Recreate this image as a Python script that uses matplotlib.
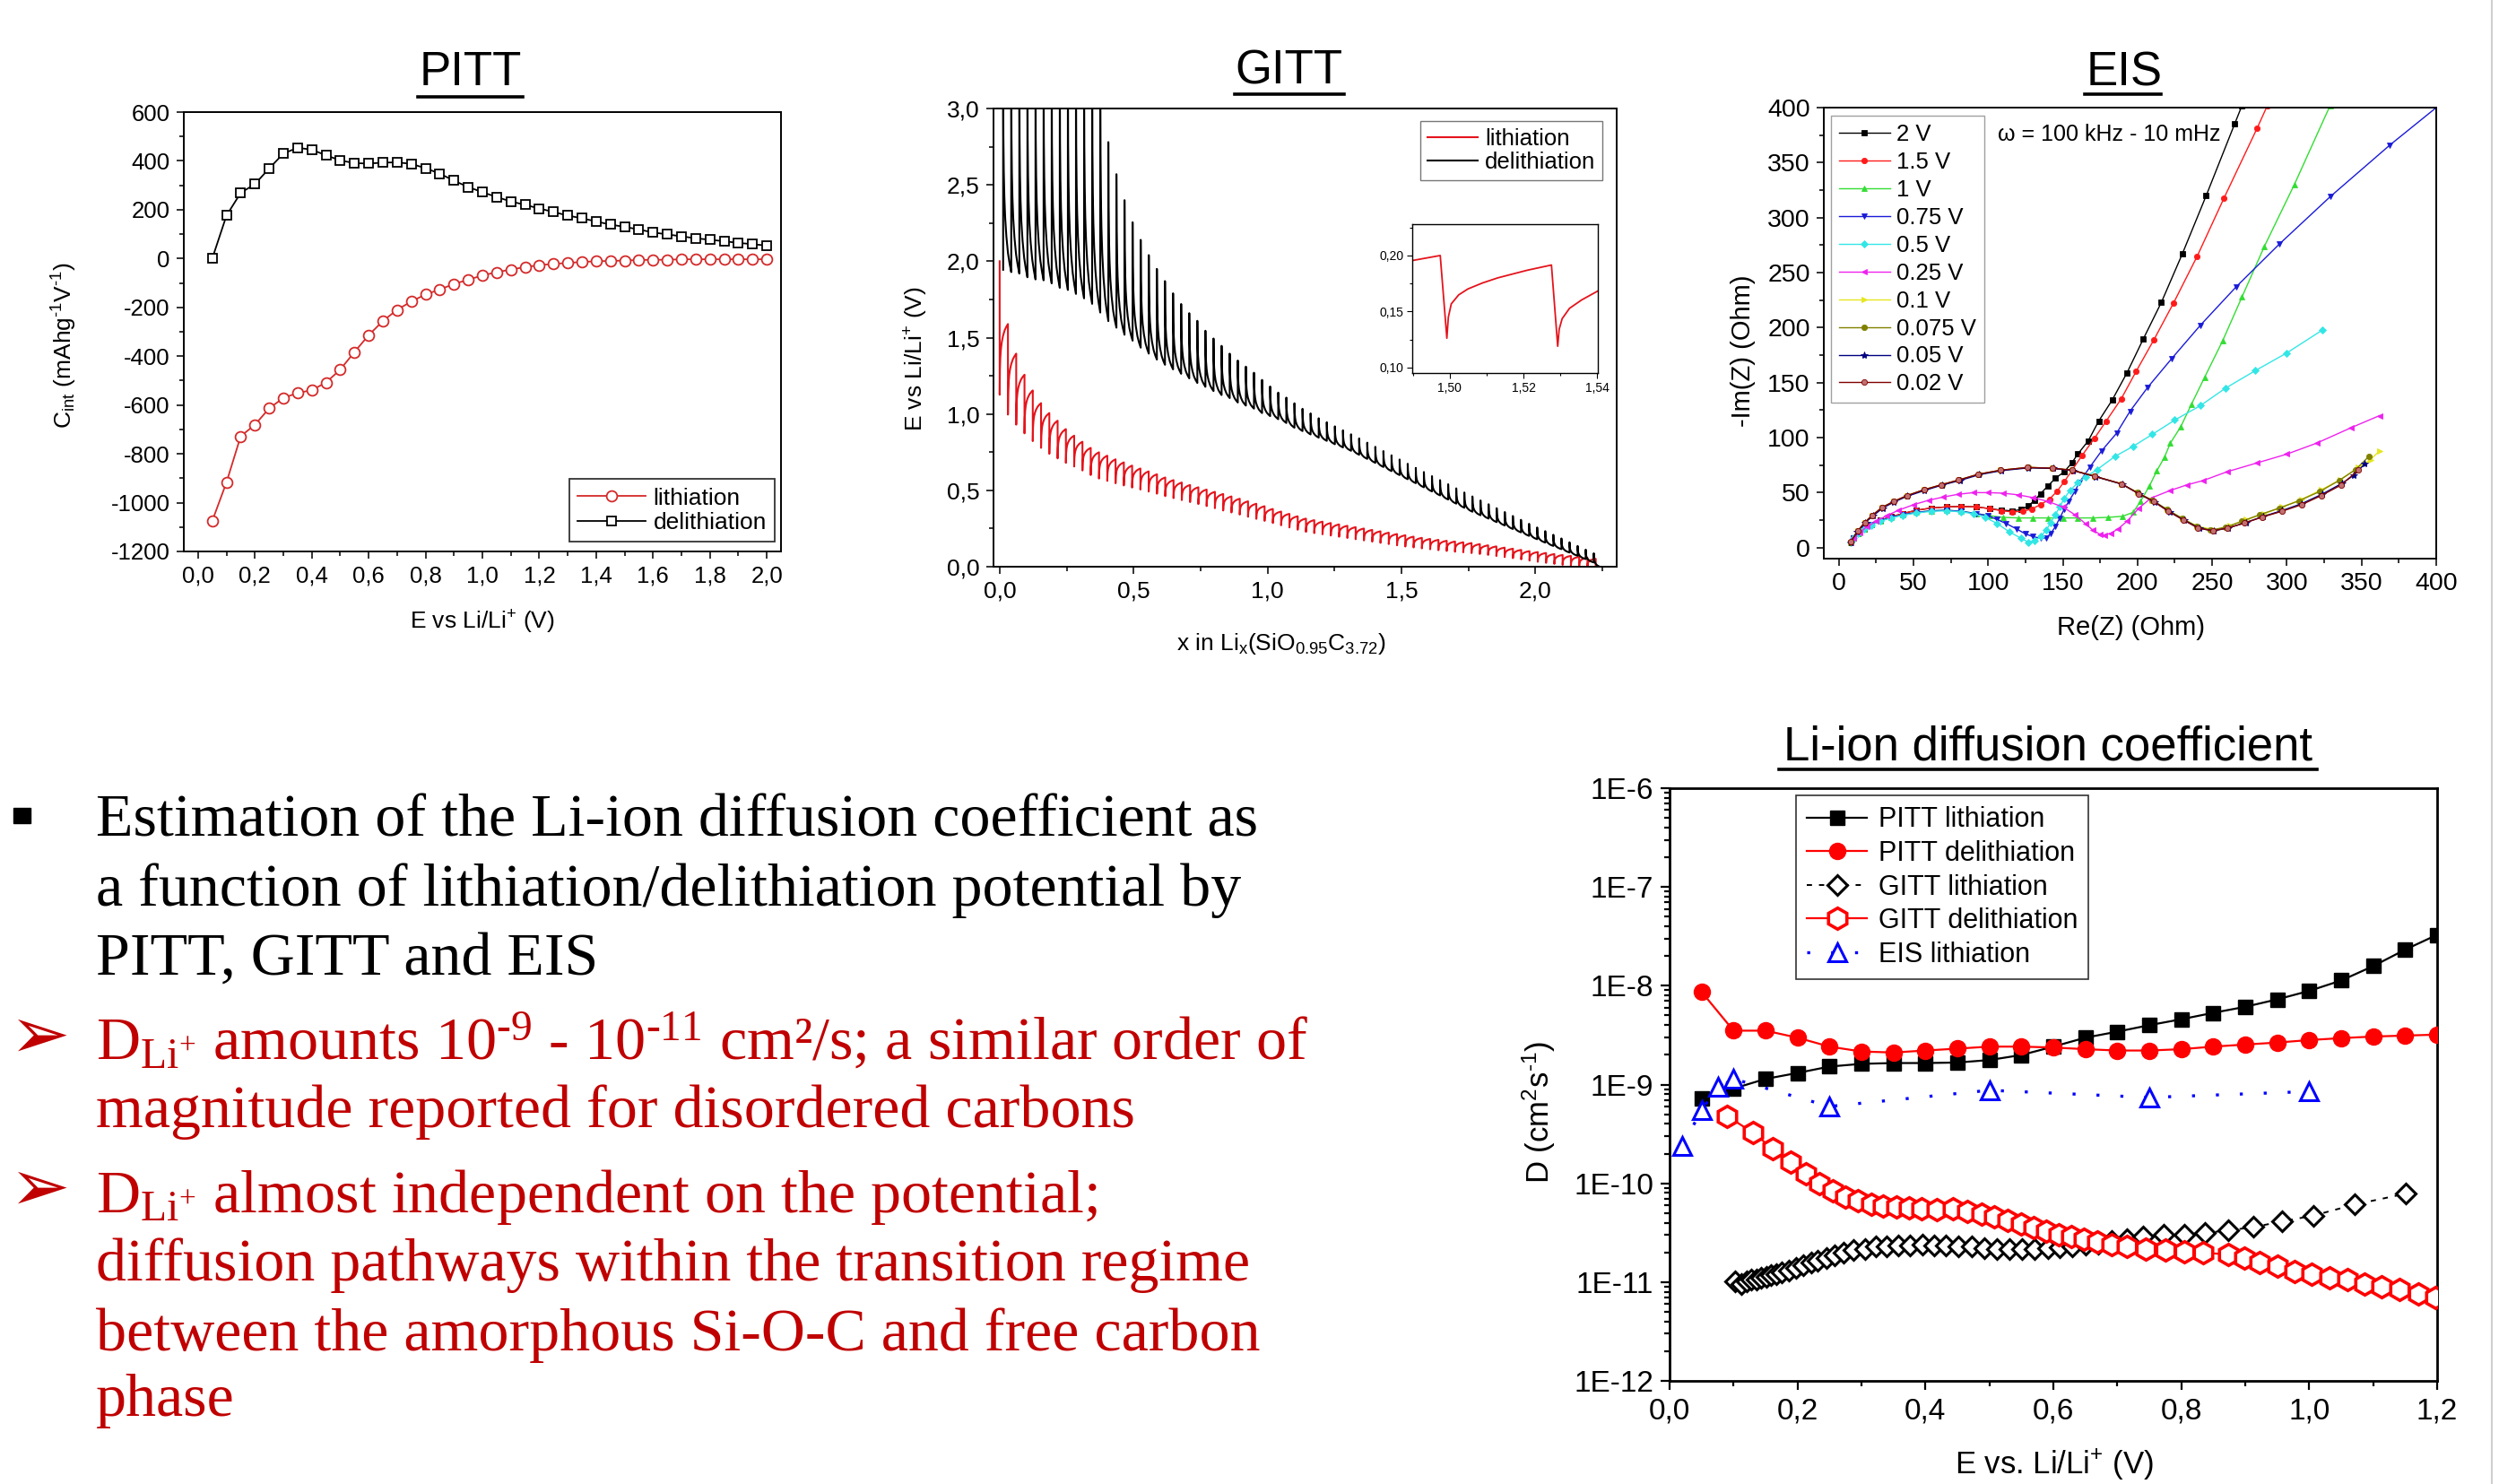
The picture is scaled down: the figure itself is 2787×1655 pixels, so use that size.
import numpy as np
import matplotlib
matplotlib.use("Agg")
import matplotlib.pyplot as plt
from matplotlib.ticker import MultipleLocator, FuncFormatter, FixedLocator, NullFormatter
from matplotlib.lines import Line2D
from matplotlib.patches import Rectangle

W, H = 2787, 1655
SANS = "Liberation Sans"
SERIF = "Liberation Serif"
plt.rcParams["font.family"] = SANS
plt.rcParams["axes.unicode_minus"] = False
HY = "\u2010"  # hyphen used in superscripts, as on the slide

# ==============================
# DATA
# ==============================
# PITT: integral capacity vs potential
pitt_e = [0.05, 0.10, 0.15, 0.20, 0.25, 0.30, 0.35, 0.40, 0.45, 0.50,
          0.55, 0.60, 0.65, 0.70, 0.75, 0.80, 0.85, 0.90, 0.95, 1.00,
          1.05, 1.10, 1.15, 1.20, 1.25, 1.30, 1.35, 1.40, 1.45, 1.50,
          1.55, 1.60, 1.65, 1.70, 1.75, 1.80, 1.85, 1.90, 1.95, 2.00]
pitt_lith = [-1075, -917, -728, -681, -614, -571, -551, -539, -508, -455,
             -383, -314, -256, -210, -176, -147, -127, -104, -87, -69,
             -56, -45, -35, -27, -22, -18, -14, -11, -10, -8,
             -6, -5, -5, -3, -3, -3, -3, -3, -3, -3]
pitt_delith = [0, 176, 269, 305, 369, 430, 454, 446, 423, 402,
               391, 389, 393, 394, 388, 370, 348, 319, 293, 272,
               252, 234, 220, 205, 191, 176, 165, 152, 139, 130,
               119, 107, 99, 91, 83, 77, 71, 64, 59, 53]

# GITT: one tooth per current pulse
gitt_lith_x0, gitt_lith_dx = 0.0, 0.0309
gitt_lith_top = [2.000, 1.589, 1.395, 1.257, 1.154, 1.071, 1.006, 0.956, 0.901, 0.858,
                 0.818, 0.778, 0.749, 0.727, 0.703, 0.683, 0.662, 0.643, 0.624, 0.605,
                 0.584, 0.567, 0.551, 0.535, 0.520, 0.505, 0.490, 0.476, 0.460, 0.445,
                 0.428, 0.412, 0.396, 0.378, 0.361, 0.346, 0.330, 0.315, 0.305, 0.295,
                 0.286, 0.277, 0.268, 0.259, 0.250, 0.241, 0.232, 0.223, 0.214, 0.206,
                 0.197, 0.189, 0.182, 0.176, 0.170, 0.165, 0.160, 0.155, 0.148, 0.140,
                 0.133, 0.125, 0.118, 0.110, 0.102, 0.096, 0.090, 0.083, 0.077, 0.071,
                 0.065, 0.059, 0.052]
gitt_lith_bottom = [1.126, 0.996, 0.930, 0.873, 0.822, 0.778, 0.739, 0.709, 0.680, 0.656,
                    0.630, 0.600, 0.577, 0.562, 0.546, 0.532, 0.518, 0.505, 0.492, 0.478,
                    0.462, 0.449, 0.436, 0.423, 0.410, 0.397, 0.383, 0.368, 0.355, 0.341,
                    0.327, 0.313, 0.300, 0.286, 0.271, 0.257, 0.242, 0.228, 0.220, 0.212,
                    0.204, 0.196, 0.188, 0.180, 0.172, 0.164, 0.156, 0.148, 0.140, 0.132,
                    0.126, 0.120, 0.114, 0.108, 0.103, 0.098, 0.094, 0.089, 0.083, 0.077,
                    0.070, 0.063, 0.056, 0.048, 0.040, 0.032, 0.025, 0.018, 0.012, 0.006,
                    0.002, 0.000, 0.000]
gitt_delith_x0, gitt_delith_dx = 0.013, 0.0302
gitt_delith_end = (2.24, 0.0)
gitt_delith_bottom = [1.944, 1.929, 1.919, 1.895, 1.881, 1.875, 1.855, 1.826, 1.812, 1.786,
                      1.757, 1.721, 1.664, 1.608, 1.565, 1.519, 1.480, 1.434, 1.395, 1.356,
                      1.322, 1.292, 1.263, 1.233, 1.203, 1.178, 1.150, 1.124, 1.104, 1.075,
                      1.055, 1.035, 1.006, 0.986, 0.966, 0.941, 0.910, 0.888, 0.866, 0.845,
                      0.824, 0.802, 0.781, 0.759, 0.733, 0.706, 0.680, 0.653, 0.626, 0.600,
                      0.573, 0.547, 0.520, 0.493, 0.467, 0.440, 0.413, 0.386, 0.360, 0.337,
                      0.315, 0.292, 0.270, 0.247, 0.225, 0.202, 0.180, 0.158, 0.136, 0.115,
                      0.093, 0.072, 0.050, 0.028]
gitt_delith_peak = [3.3, 3.3, 3.3, 3.3, 3.3, 3.3, 3.3, 3.3, 3.3, 3.3,
                    3.3, 3.3, 3.3, 2.78, 2.57, 2.40, 2.255, 2.14, 2.04, 1.95,
                    1.87, 1.79, 1.72, 1.66, 1.61, 1.545, 1.494, 1.446, 1.395, 1.35,
                    1.31, 1.27, 1.223, 1.18, 1.14, 1.107, 1.07, 1.034, 1.004, 0.972,
                    0.946, 0.919, 0.893, 0.867, 0.840, 0.812, 0.785, 0.757, 0.729, 0.702,
                    0.674, 0.647, 0.620, 0.593, 0.567, 0.540, 0.513, 0.486, 0.460, 0.434,
                    0.409, 0.383, 0.358, 0.332, 0.307, 0.281, 0.257, 0.233, 0.209, 0.185,
                    0.160, 0.136, 0.112, 0.088]
inset_x = [1.4898, 1.4974, 1.4992, 1.4996, 1.5004, 1.5024, 1.5049, 1.5089, 1.5130,
           1.5171, 1.5211, 1.5276, 1.5293, 1.5297, 1.5305, 1.5325, 1.5358, 1.5402]
inset_e = [0.1955, 0.2000, 0.1261, 0.1448, 0.1568, 0.1648, 0.1701, 0.1755, 0.1800,
           0.1835, 0.1869, 0.1915, 0.1189, 0.1341, 0.1435, 0.1528, 0.1603, 0.1683]

# EIS: Nyquist points (Re, -Im) in Ohm
eis_2v = [(8, 5), (10, 9), (13, 13), (17, 17), (22, 21), (28, 25), (35, 28), (43, 31), (52, 34),
          (62, 36), (72, 37), (82, 37.5), (92, 37), (101, 35.5), (109, 34), (116, 33.5),
          (122, 34.5), (127, 38), (131, 43), (135, 49), (140, 56), (145, 63), (151, 69),
          (156, 77), (160, 85), (167, 97), (174, 115), (183, 134), (193, 159), (204, 190),
          (216, 223), (230, 267), (246, 320), (265, 385), (270, 402)]
eis_1p5v = [(8, 5), (10, 9), (13, 13), (17, 17), (22, 21), (28, 25), (35, 28), (43, 31), (52, 34),
            (62, 36), (72, 37), (82, 37.5), (92, 37), (101, 35.5), (109, 33.5), (116, 32.5),
            (123, 33), (129, 35), (135, 39), (141, 44), (146, 51), (151, 60), (156, 70),
            (163, 84), (171, 99), (179, 115), (189, 135), (199, 160), (211, 189), (224, 222),
            (240, 265), (258, 318), (280, 381), (287, 402)]
eis_1v = [(8, 5), (10, 9), (13, 13), (17, 17), (22, 21), (28, 24.5), (35, 27.5), (43, 30), (52, 32),
          (62, 33.5), (72, 34), (82, 33), (92, 31), (101, 29), (110, 27.5), (120, 27), (130, 27),
          (140, 27), (150, 27), (160, 27), (170, 27), (180, 27.5), (190, 28.5), (197, 32),
          (202, 42), (208, 56), (213, 70), (218, 82), (222, 95), (229, 110), (236, 130),
          (245, 155), (257, 188), (270, 228), (285, 274), (305, 330), (329, 402)]
eis_0p75v = [(8, 5), (10, 9), (13, 13), (17, 17), (22, 21), (28, 24.5), (35, 27.5), (43, 30),
             (52, 32), (62, 33.5), (72, 34), (82, 33), (92, 31), (100, 29), (106, 25.5), (112, 22),
             (119, 17), (125, 12.5), (130, 10), (135, 8.5), (139, 9), (142, 13), (145, 19),
             (148, 27), (151, 35), (154, 42), (158, 51), (161, 59), (168, 73), (176, 88),
             (186, 104), (195, 124), (207, 146), (223, 172), (242, 202), (266, 237), (295, 276),
             (329, 319), (369, 366), (400, 400)]
eis_0p5v = [(8, 5), (10, 9), (13, 13), (17, 17), (22, 20.5), (28, 24), (35, 27), (43, 29.5),
            (52, 31.5), (62, 33), (72, 33.5), (82, 32.5), (90, 31), (98, 27.5), (106, 22),
            (114, 14.5), (122, 8.5), (127, 5), (131, 6), (135, 10), (139, 16), (142, 23),
            (145, 30), (148, 37), (151, 45), (155, 52), (160, 59), (165, 64), (173, 71),
            (185, 83), (197, 92), (210, 103), (225, 116), (242, 129), (259, 145), (279, 161),
            (300, 177), (324, 198)]
eis_0p25v = [(8, 5), (10, 9), (14, 14), (19, 19), (25, 24), (32, 29), (40, 34), (50, 39), (60, 43),
             (70, 46), (80, 48.5), (90, 50), (100, 50), (110, 49.5), (120, 48), (130, 45.5),
             (140, 42), (150, 37), (158, 30), (165, 22), (170, 16), (175, 12), (178, 11.5),
             (182, 13), (187, 17), (193, 24), (201, 36), (209, 45), (222, 52), (233, 57),
             (244, 61), (260, 69), (280, 77), (300, 85), (320, 95), (343, 109), (362, 120)]
eis_0p1v = [(8, 5), (12.6, 15), (17.5, 23), (22.5, 29.5), (29, 36.5), (37, 42), (46, 47.3),
            (57, 52.6), (69, 57.2), (80.5, 61.5), (94, 66.8), (108.5, 70.4), (127, 72.9),
            (143, 72.2), (156.5, 70.4), (171, 65), (189, 58), (200, 50), (210, 43), (220, 34.5),
            (230, 26.5), (240, 19.5), (252, 16), (262, 20), (273, 25.5), (285, 31), (297, 37),
            (310, 44), (323, 52.5), (336, 62), (348, 73), (356, 80), (362, 88)]
eis_0p075v = [(8, 5), (12.6, 15), (17.5, 23), (22.5, 29.5), (29, 36.5), (37, 42), (46, 47.3),
              (57, 52.6), (69, 57.2), (80.5, 61.5), (94, 66.8), (108.5, 70.4), (127, 72.9),
              (143, 72.2), (156.5, 70.4), (171, 65), (189, 58), (200, 50), (210, 43), (220, 34.5),
              (230, 26.5), (240, 19), (249, 16), (259, 18.5), (270, 24), (282, 30), (295, 36),
              (308, 42.5), (322, 51), (335, 61), (346, 71), (355, 83)]
eis_0p05v = [(8, 5), (12.5, 14.5), (17.5, 22.5), (23, 29), (29.5, 36), (37, 41.5), (46, 46.8),
             (57.5, 52), (69, 56.8), (81, 61), (94, 66.3), (109, 70), (127, 72.5), (143.5, 72),
             (157, 70), (172, 64.5), (190, 57.5), (201.5, 48.5), (211.5, 41.5), (221.5, 32.5),
             (231.5, 24.8), (241.5, 17.5), (251, 15.3), (261, 18), (272.5, 22.8), (284, 28.3),
             (297, 33.8), (310, 40), (323.5, 48.5), (337, 58.5), (345, 66), (352, 76)]
eis_0p02v = [(8, 5.5), (12.6, 15), (17.5, 23), (22.5, 29.5), (29, 36.5), (36.7, 42), (45.6, 47.3),
             (57, 52.6), (68.7, 57.2), (80.3, 61.5), (93.5, 66.8), (108.3, 70.4), (126.5, 72.9),
             (143, 72.2), (156.2, 70.4), (171.1, 65), (189.3, 58), (200.8, 49), (210.7, 42),
             (220.6, 33), (230.6, 25.2), (240.5, 17.8), (250.4, 15.3), (260.3, 17.8),
             (271.8, 22.4), (283.4, 27.7), (296.6, 33), (309.8, 39), (323, 47.3), (336.3, 56.9),
             (347.8, 70.4)]
eis_labels = ["2 V", "1.5 V", "1 V", "0.75 V", "0.5 V", "0.25 V", "0.1 V", "0.075 V", "0.05 V", "0.02 V"]

# Diffusion coefficient vs potential
pitt_d_e = [0.05, 0.10, 0.15, 0.20, 0.25, 0.30, 0.35, 0.40, 0.45, 0.50, 0.55, 0.60,
            0.65, 0.70, 0.75, 0.80, 0.85, 0.90, 0.95, 1.00, 1.05, 1.10, 1.15, 1.20]
pitt_lith_d = [7.2e-10, 9.1e-10, 1.14e-9, 1.31e-9, 1.52e-9, 1.62e-9, 1.65e-9, 1.65e-9,
               1.67e-9, 1.77e-9, 1.99e-9, 2.42e-9, 2.98e-9, 3.43e-9, 3.99e-9, 4.58e-9,
               5.32e-9, 6.12e-9, 7.28e-9, 8.87e-9, 1.13e-8, 1.58e-8, 2.32e-8, 3.28e-8]
pitt_delith_d = [8.67e-9, 3.51e-9, 3.51e-9, 2.98e-9, 2.42e-9, 2.16e-9, 2.11e-9, 2.21e-9,
                 2.31e-9, 2.42e-9, 2.42e-9, 2.37e-9, 2.28e-9, 2.21e-9, 2.21e-9, 2.28e-9,
                 2.42e-9, 2.54e-9, 2.66e-9, 2.82e-9, 2.95e-9, 3.06e-9, 3.13e-9, 3.20e-9]
gitt_lith_e = [0.102, 0.112, 0.120, 0.128, 0.136, 0.143, 0.151, 0.159, 0.167, 0.175, 0.186,
               0.198, 0.209, 0.221, 0.232, 0.245, 0.258, 0.272, 0.288, 0.305, 0.322, 0.339,
               0.357, 0.376, 0.395, 0.414, 0.432, 0.452, 0.472, 0.492, 0.511, 0.531, 0.551,
               0.571, 0.591, 0.610, 0.630, 0.650, 0.670, 0.691, 0.715, 0.740, 0.773, 0.804,
               0.837, 0.874, 0.913, 0.958, 1.007, 1.071, 1.151]
gitt_lith_d = [1.02e-11, 9.5e-12, 1.02e-11, 1.05e-11, 1.07e-11, 1.11e-11, 1.14e-11, 1.17e-11,
               1.20e-11, 1.25e-11, 1.32e-11, 1.40e-11, 1.48e-11, 1.57e-11, 1.66e-11, 1.76e-11,
               1.87e-11, 1.98e-11, 2.10e-11, 2.17e-11, 2.28e-11, 2.30e-11, 2.36e-11, 2.36e-11,
               2.41e-11, 2.36e-11, 2.36e-11, 2.30e-11, 2.28e-11, 2.22e-11, 2.17e-11, 2.15e-11,
               2.15e-11, 2.15e-11, 2.20e-11, 2.25e-11, 2.30e-11, 2.41e-11, 2.47e-11, 2.58e-11,
               2.71e-11, 2.90e-11, 3.04e-11, 3.04e-11, 3.15e-11, 3.33e-11, 3.61e-11, 4.11e-11,
               4.72e-11, 6.10e-11, 7.85e-11]
gitt_delith_e = [0.090, 0.130, 0.161, 0.189, 0.213, 0.234, 0.255, 0.275, 0.295, 0.315, 0.334,
                 0.354, 0.374, 0.394, 0.418, 0.443, 0.466, 0.488, 0.508, 0.529, 0.549, 0.569,
                 0.589, 0.608, 0.628, 0.648, 0.668, 0.691, 0.715, 0.745, 0.775, 0.804, 0.834,
                 0.874, 0.898, 0.923, 0.951, 0.977, 1.004, 1.032, 1.060, 1.086, 1.113, 1.141,
                 1.170, 1.197]
gitt_delith_d = [4.79e-10, 3.27e-10, 2.25e-10, 1.65e-10, 1.26e-10, 1.00e-10, 8.43e-11, 7.33e-11,
                 6.68e-11, 6.16e-11, 5.95e-11, 5.82e-11, 5.62e-11, 5.48e-11, 5.42e-11, 5.48e-11,
                 5.18e-11, 4.83e-11, 4.61e-11, 4.21e-11, 3.88e-11, 3.53e-11, 3.26e-11, 3.04e-11,
                 2.87e-11, 2.71e-11, 2.55e-11, 2.41e-11, 2.30e-11, 2.17e-11, 2.10e-11, 2.03e-11,
                 1.98e-11, 1.91e-11, 1.76e-11, 1.57e-11, 1.45e-11, 1.29e-11, 1.20e-11, 1.11e-11,
                 1.05e-11, 9.5e-12, 9.0e-12, 8.5e-12, 7.57e-12, 6.98e-12]
eis_d_e = [0.02, 0.05, 0.075, 0.10, 0.25, 0.50, 0.75, 1.00]
eis_d = [2.39e-10, 5.5e-10, 9.4e-10, 1.14e-9, 6.0e-10, 8.75e-10, 7.4e-10, 8.5e-10]
d_decades = [1e-12, 1e-11, 1e-10, 1e-9, 1e-8, 1e-7, 1e-6]

# ==============================
# HELPERS
# ==============================
fig = plt.figure(figsize=(W / 100, H / 100), dpi=100)
fig.patch.set_facecolor("white")


def rect(l, t, r, b):
    return [l / W, 1 - b / H, (r - l) / W, (b - t) / H]


def ftext(x, y, s, **kw):
    return fig.text(x / W, 1 - y / H, s, **kw)


def underline(x0, x1, y, lw=2.6):
    fig.add_artist(Line2D([x0 / W, x1 / W], [1 - y / H, 1 - y / H],
                          color="black", lw=lw, transform=fig.transFigure))


def comma(dec):
    return FuncFormatter(lambda v, p: f"{v:.{dec}f}".replace(".", ","))


def style(ax, size, lw=1.4, major=6, minor=3.5, pad=5):
    for sp in ax.spines.values():
        sp.set_linewidth(lw)
    ax.tick_params(which="both", direction="out", top=False, right=False,
                   width=lw * 0.8, labelsize=size, pad=pad)
    ax.tick_params(which="major", length=major)
    ax.tick_params(which="minor", length=minor)


# shape of one GITT tooth between pulses (fraction of interval, fraction of change)
TOOTH_S = [0.03, 0.08, 0.15, 0.25, 0.4, 0.6, 0.8]
TOOTH_F = [0.35, 0.52, 0.64, 0.74, 0.83, 0.91, 0.96]


def tooth_path(x0, dx, a, b, end=None):
    xs = [x0 + dx * i for i in range(len(a))]
    px, py = [], []
    for i in range(len(a)):
        px += [xs[i], xs[i]]
        py += [a[i], b[i]]
        if i + 1 < len(a):
            nx, na = xs[i + 1], a[i + 1]
        elif end is not None:
            nx, na = end
        else:
            continue
        for s, f in zip(TOOTH_S, TOOTH_F):
            px.append(xs[i] + s * (nx - xs[i]))
            py.append(b[i] + f * (na - b[i]))
    if end is not None:
        px.append(end[0])
        py.append(end[1])
    return px, py


# ==============================
# PITT
# ==============================
PITT_RED = "#d42a2a"
ax1 = fig.add_axes(rect(205, 125, 871, 615))
ax1.plot(pitt_e, pitt_lith, color=PITT_RED, lw=1.3, marker="o", ms=8.5,
         mfc="white", mec=PITT_RED, mew=1.3, label="lithiation")
ax1.plot(pitt_e, pitt_delith, color="black", lw=1.3, marker="s", ms=7.5,
         mfc="white", mec="black", mew=1.3, label="delithiation")
ax1.set_xlim(-0.05, 2.05)
ax1.set_ylim(-1200, 600)
ax1.xaxis.set_major_locator(MultipleLocator(0.2))
ax1.xaxis.set_minor_locator(MultipleLocator(0.1))
ax1.yaxis.set_major_locator(MultipleLocator(200))
ax1.yaxis.set_minor_locator(MultipleLocator(100))
ax1.xaxis.set_major_formatter(comma(1))
style(ax1, 18.5)
ax1.legend(loc="lower right", bbox_to_anchor=(1 - 7 / 666, 11 / 490), borderaxespad=0,
           fontsize=19, frameon=True, fancybox=False, edgecolor="black",
           handlelength=2.9, handletextpad=0.3, labelspacing=0.12, borderpad=0.35
           ).get_frame().set_linewidth(1.3)
ftext(525, 81, "PITT", fontsize=38, ha="center", va="center")
underline(466, 583, 107.6)
ftext(538, 694, r"E vs $\mathregular{Li/Li^{+}}$ (V)", fontsize=19, ha="center", va="center")
ftext(72, 385, r"$\mathregular{C_{int}}$ ($\mathregular{mAhg^{" + HY + "1}V^{" + HY + "1}}$)",
      fontsize=19, ha="center", va="center", rotation=90)

# ==============================
# GITT
# ==============================
GITT_RED = "#e4141c"
ax2 = fig.add_axes(rect(1108, 121, 1803, 632))
rx, ry = tooth_path(gitt_lith_x0, gitt_lith_dx, gitt_lith_top, gitt_lith_bottom)
bx, by = tooth_path(gitt_delith_x0, gitt_delith_dx, gitt_delith_bottom, gitt_delith_peak,
                    end=gitt_delith_end)
ax2.plot(rx, ry, color=GITT_RED, lw=1.5, label="lithiation")
ax2.plot(bx, by, color="black", lw=1.5, label="delithiation")
ax2.set_xlim(-0.023, 2.303)
ax2.set_ylim(0, 3.0)
ax2.xaxis.set_major_locator(MultipleLocator(0.5))
ax2.xaxis.set_minor_locator(MultipleLocator(0.25))
ax2.yaxis.set_major_locator(MultipleLocator(0.5))
ax2.yaxis.set_minor_locator(MultipleLocator(0.25))
ax2.xaxis.set_major_formatter(comma(1))
ax2.yaxis.set_major_formatter(comma(1))
style(ax2, 19)
ax2.legend(loc="upper right", bbox_to_anchor=(1 - 16 / 695, 1 - 14 / 511), borderaxespad=0,
           fontsize=18.5, frameon=True, fancybox=False, edgecolor="#555555",
           handlelength=2.2, handletextpad=0.3, labelspacing=0.1, borderpad=0.3
           ).get_frame().set_linewidth(1.0)
ftext(1437, 79, "GITT", fontsize=38, ha="center", va="center")
underline(1377, 1499, 104.6)
ftext(1429, 718, r"x in $\mathregular{Li_{x}(SiO_{0.95}C_{3.72})}$", fontsize=19,
      ha="center", va="center")
ftext(1022, 400, r"E vs $\mathregular{Li/Li^{+}}$ (V)", fontsize=19, ha="center", va="center",
      rotation=90)

axi = fig.add_axes(rect(1575, 250, 1782, 416))
axi.plot(inset_x, inset_e, color=GITT_RED, lw=1.3)
axi.set_xlim(1.4898, 1.5402)
axi.set_ylim(0.095, 0.228)
axi.xaxis.set_major_locator(MultipleLocator(0.02))
axi.xaxis.set_minor_locator(MultipleLocator(0.01))
axi.yaxis.set_major_locator(MultipleLocator(0.05))
axi.yaxis.set_minor_locator(MultipleLocator(0.025))
axi.xaxis.set_major_formatter(comma(2))
axi.yaxis.set_major_formatter(comma(2))
style(axi, 10, lw=1.0, major=4, minor=2.5, pad=3)

# ==============================
# EIS
# ==============================
ax3 = fig.add_axes(rect(2034, 120, 2717, 623))
eis_sets = [eis_2v, eis_1p5v, eis_1v, eis_0p75v, eis_0p5v, eis_0p25v,
            eis_0p1v, eis_0p075v, eis_0p05v, eis_0p02v]
eis_colors = ["black", "#ff1a1a", "#33dd33", "#1a1ad8", "#33e6e6", "#ee22ee",
              "#e6e620", "#808000", "#000080", "#800000"]
eis_markers = ["s", "o", "^", "v", "D", "<", ">", "o", "*", "o"]
for lab, pts, c, m in zip(eis_labels, eis_sets, eis_colors, eis_markers):
    pts = np.array(pts)
    face = "#c07070" if lab == "0.02 V" else c
    ax3.plot(pts[:, 0], pts[:, 1], color=c, lw=1.0, marker=m, ms=4.5 if m != "*" else 6,
             mfc=face, mec=c, mew=0.6, label=lab)
ax3.set_xlim(-10, 400)
ax3.set_ylim(-10, 400)
ax3.xaxis.set_major_locator(MultipleLocator(50))
ax3.xaxis.set_minor_locator(MultipleLocator(25))
ax3.yaxis.set_major_locator(MultipleLocator(50))
ax3.yaxis.set_minor_locator(MultipleLocator(25))
style(ax3, 20.5)
ax3.legend(loc="upper left", bbox_to_anchor=(8 / 683, 1 - 9 / 503), borderaxespad=0,
           fontsize=18.5, frameon=True, fancybox=False, edgecolor="#888888",
           handlelength=2.2, handletextpad=0.3, labelspacing=0.27, borderpad=0.35
           ).get_frame().set_linewidth(1.0)
ftext(2228, 150, "ω = 100 kHz - 10 mHz", fontsize=18, ha="left", va="center")
ftext(2369, 81, "EIS", fontsize=38, ha="center", va="center")
underline(2325, 2410, 105.4)
ftext(2377, 700, "Re(Z) (Ohm)", fontsize=21, ha="center", va="center")
ftext(1944, 391, "-Im(Z) (Ohm)", fontsize=21, ha="center", va="center", rotation=90)

# ==============================
# DIFFUSION COEFFICIENT
# ==============================
ax4 = fig.add_axes(rect(1862, 879, 2718, 1540))
ax4.set_yscale("log")
ax4.plot(pitt_d_e, pitt_lith_d, color="black", lw=1.6, marker="s", ms=11,
         mfc="black", mec="black", label="PITT lithiation", zorder=4)
ax4.plot(pitt_d_e, pitt_delith_d, color="#ff0000", lw=1.6, marker="o", ms=13,
         mfc="#ff0000", mec="#ff0000", label="PITT delithiation", zorder=4)
ax4.plot(gitt_lith_e, gitt_lith_d, color="black", lw=1.4, ls=(0, (3, 4)), marker="D", ms=11,
         mfc="white", mec="black", mew=2.2, label="GITT lithiation", zorder=3)
ax4.plot(gitt_delith_e, gitt_delith_d, color="#ff0000", lw=1.6, marker="h", ms=17,
         mfc="white", mec="#ff0000", mew=2.6, label="GITT delithiation", zorder=3)
ax4.plot(eis_d_e, eis_d, color="#0000ff", lw=2.4, ls=(0, (1, 7)), marker="^", ms=14,
         mfc="white", mec="#0000ff", mew=2.2, label="EIS lithiation", zorder=5)
ax4.set_xlim(0, 1.2)
ax4.set_ylim(1e-12, 1e-6)
ax4.xaxis.set_major_locator(MultipleLocator(0.2))
ax4.xaxis.set_minor_locator(MultipleLocator(0.1))
ax4.xaxis.set_major_formatter(comma(1))
ax4.yaxis.set_major_locator(FixedLocator(d_decades))
ax4.yaxis.set_minor_locator(FixedLocator([m * d for d in d_decades[:-1] for m in range(2, 10)]))
ax4.yaxis.set_minor_formatter(NullFormatter())
ax4.yaxis.set_major_formatter(FuncFormatter(lambda v, p: f"1E{int(round(np.log10(v)))}"))
style(ax4, 24, lw=2.0, major=7, minor=4, pad=6)
ax4.legend(loc="upper left", bbox_to_anchor=(141 / 856, 1 - 8 / 661), borderaxespad=0,
           fontsize=22, frameon=True, fancybox=False, edgecolor="black",
           handlelength=2.2, handletextpad=0.4, labelspacing=0.25, borderpad=0.4
           ).get_frame().set_linewidth(1.2)
ftext(2284, 834, "Li-ion diffusion coefficient", fontsize=38, ha="center", va="center")
underline(1984, 2584, 857.7)
ftext(2291, 1634, r"E vs. $\mathregular{Li/Li^{+}}$ (V)", fontsize=25, ha="center", va="center")
ftext(1716, 1240, r"D ($\mathregular{cm^{2}s^{" + HY + "1}}$)", fontsize=25, ha="center",
      va="center", rotation=90)

# ==============================
# SLIDE TEXT
# ==============================
BODY = 49
TEXT_RED = "#c00000"
black_lines = ["Estimation of the Li-ion diffusion coefficient as",
               "a function of lithiation/delithiation potential by",
               "PITT, GITT and EIS"]
red_lines_1 = [r"$\mathregular{D_{Li^{+}}}$ amounts $\mathregular{10^{" + HY + "9}}$ - "
               r"$\mathregular{10^{" + HY + "11}}$ cm²/s; a similar order of",
               "magnitude reported for disordered carbons"]
red_lines_2 = [r"$\mathregular{D_{Li^{+}}}$ almost independent on the potential;",
               "diffusion pathways within the transition regime",
               "between the amorphous Si-O-C and free carbon",
               "phase"]
for y, s in zip([933, 1010, 1087], black_lines):
    ftext(107, y, s, fontsize=BODY, family=SERIF, color="black", va="baseline")
for y, s in zip([1182, 1257], red_lines_1):
    ftext(107, y, s, fontsize=BODY, family=SERIF, color=TEXT_RED, va="baseline")
for y, s in zip([1352, 1428, 1506, 1579], red_lines_2):
    ftext(107, y, s, fontsize=BODY, family=SERIF, color=TEXT_RED, va="baseline")

fig.add_artist(Rectangle((15 / W, 1 - 918 / H), 19 / W, 17 / H, color="black",
                         transform=fig.transFigure))
for y in [1180, 1350]:
    ftext(10, y, "➢", fontsize=58, family="DejaVu Sans", color=TEXT_RED, va="baseline")

fig.add_artist(Line2D([2779 / W, 2779 / W], [0, 1], color="#cfcfcf", lw=1.5,
                      transform=fig.transFigure))

fig.savefig("out.png", dpi=100, facecolor="white")
